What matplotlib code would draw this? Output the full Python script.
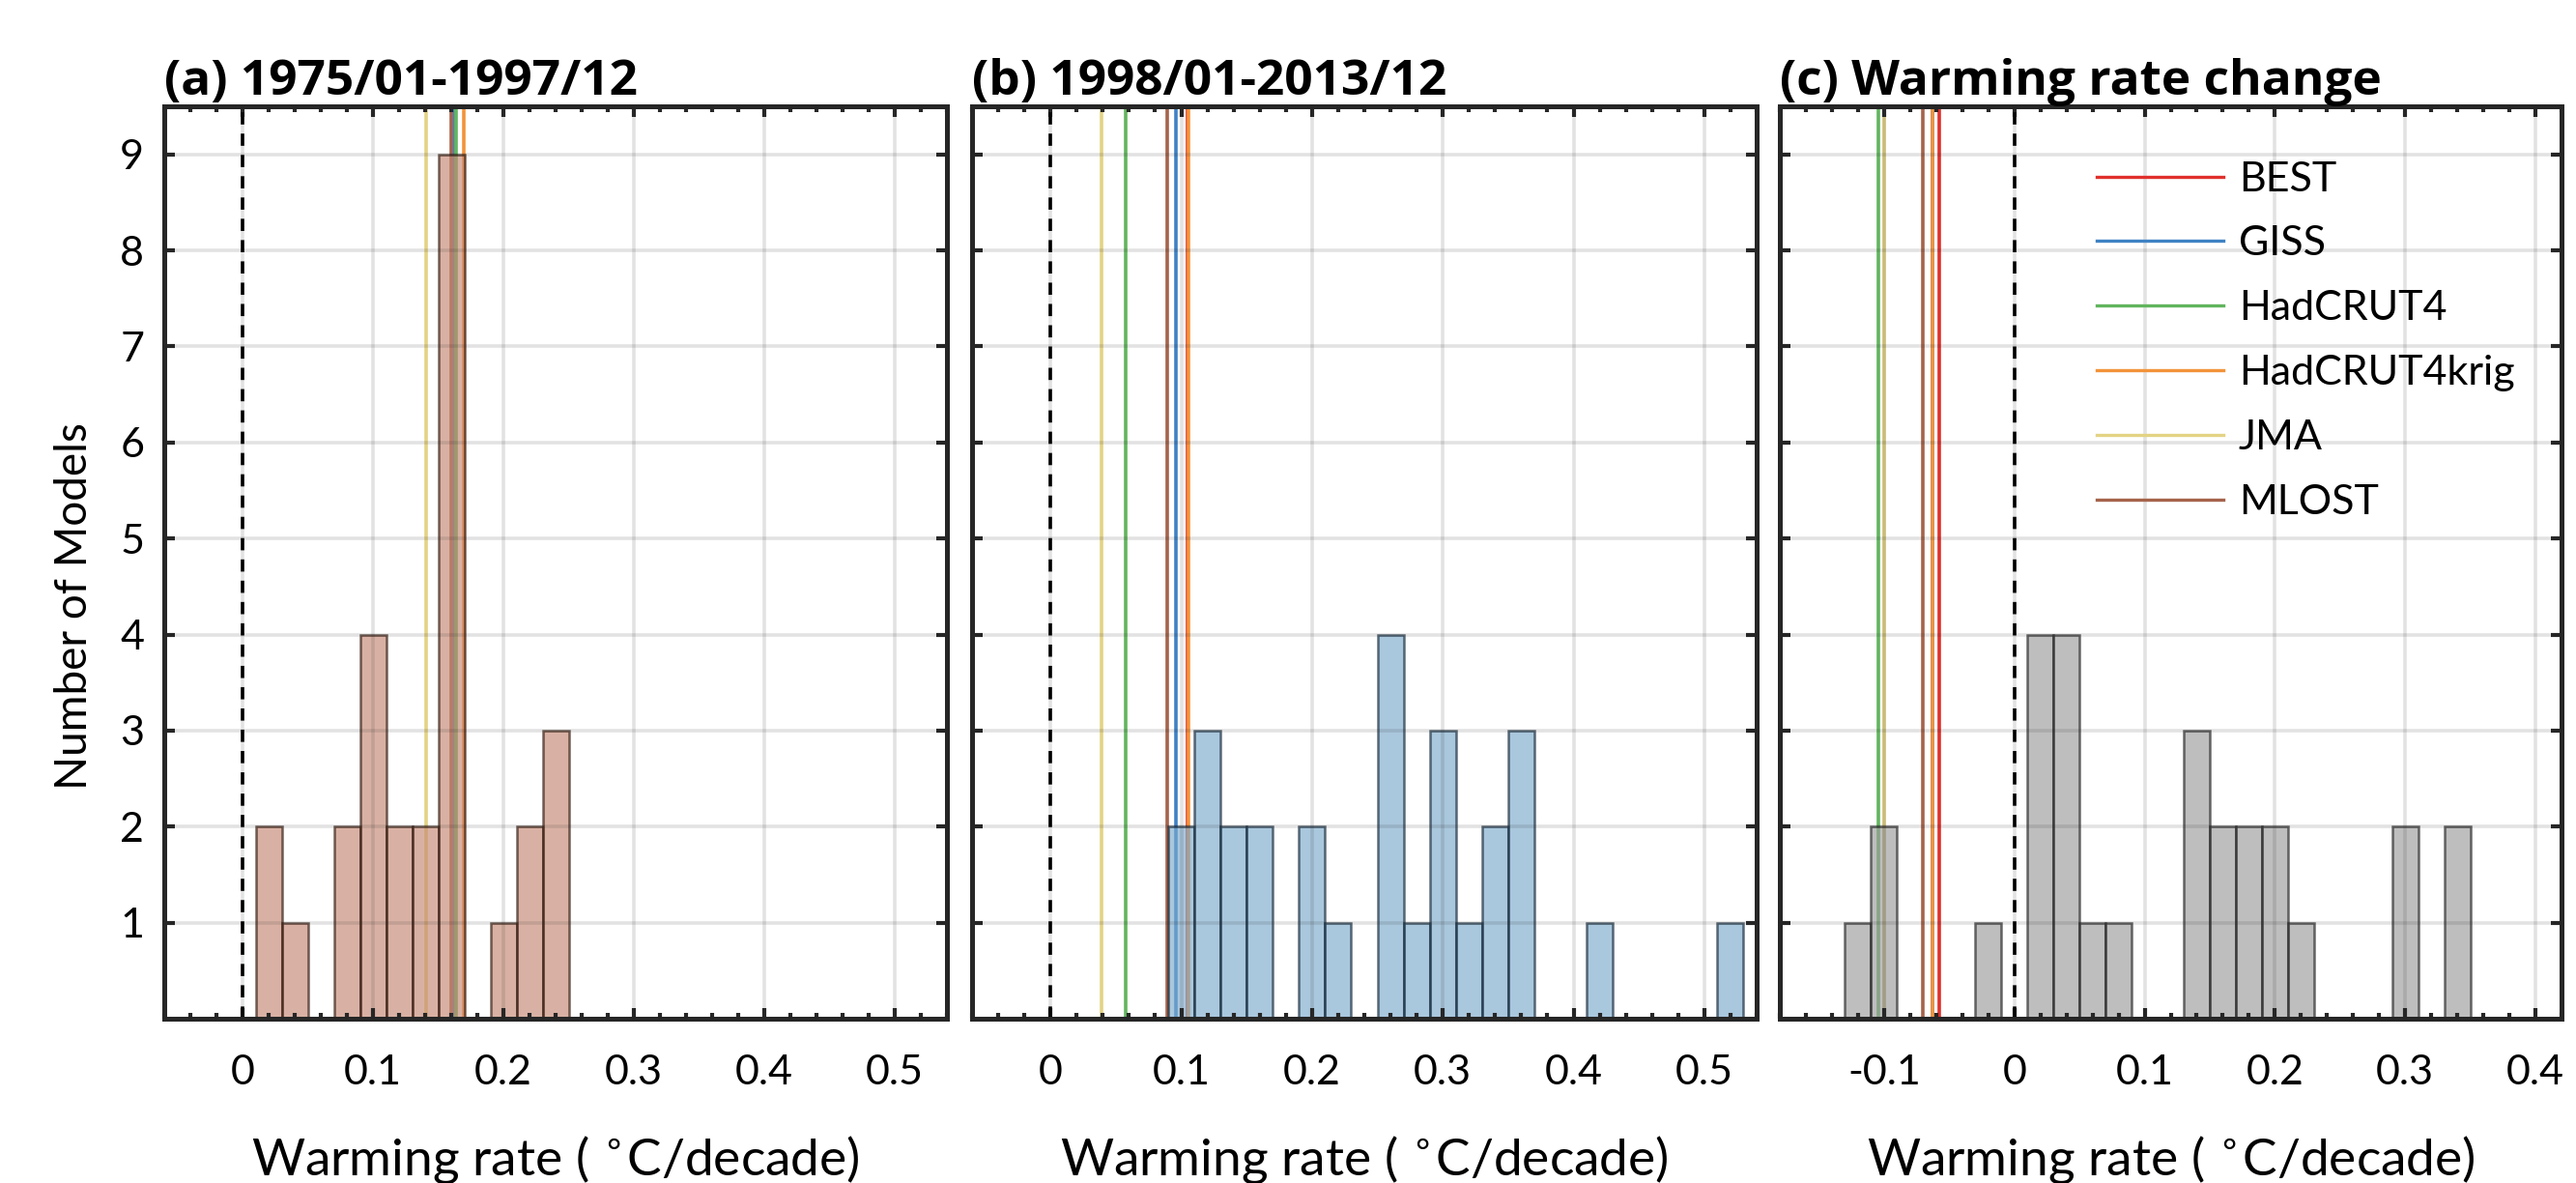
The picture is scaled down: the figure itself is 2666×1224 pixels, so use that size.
import matplotlib
matplotlib.use("Agg")
import matplotlib.pyplot as plt
from matplotlib.ticker import MultipleLocator, FixedLocator

# ---------------- data ----------------
datasets = ["BEST", "GISS", "HadCRUT4", "HadCRUT4krig", "JMA", "MLOST"]

# histogram bins (left edges, width 0.02) and model counts
a_bins = [0.01, 0.03, 0.05, 0.07, 0.09, 0.11, 0.13, 0.15, 0.17, 0.19, 0.21, 0.23]
a_counts = [2, 1, 0, 2, 4, 2, 2, 9, 0, 1, 2, 3]

b_bins = [0.09, 0.11, 0.13, 0.15, 0.17, 0.19, 0.21, 0.23, 0.25, 0.27, 0.29,
          0.31, 0.33, 0.35, 0.37, 0.39, 0.41, 0.43, 0.45, 0.47, 0.49, 0.51]
b_counts = [2, 3, 2, 2, 0, 2, 1, 0, 4, 1, 3, 1, 2, 3, 0, 0, 1, 0, 0, 0, 0, 1]

c_bins = [-0.13, -0.11, -0.09, -0.07, -0.05, -0.03, -0.01, 0.01, 0.03, 0.05, 0.07,
          0.09, 0.11, 0.13, 0.15, 0.17, 0.19, 0.21, 0.23, 0.25, 0.27, 0.29, 0.31, 0.33]
c_counts = [1, 2, 0, 0, 0, 1, 0, 4, 4, 1, 1, 0, 0, 3, 2, 2, 2, 1, 0, 0, 0, 2, 0, 2]

# observed warming rates (deg C / decade), order as in `datasets`
a_obs = [0.163, 0.162, 0.1635, 0.1695, 0.1405, 0.1598]
b_obs = [0.105, 0.096, 0.0576, 0.1057, 0.039, 0.0894]
c_obs = [-0.0576, -0.063, -0.104, -0.0628, -0.0999, -0.0702]

titles = ["(a) 1975/01-1997/12", "(b) 1998/01-2013/12", "(c) Warming rate change"]
a_xticks = [0, 0.1, 0.2, 0.3, 0.4, 0.5]
a_xticklabels = ["0", "0.1", "0.2", "0.3", "0.4", "0.5"]
c_xticks = [-0.1, 0, 0.1, 0.2, 0.3, 0.4]
c_xticklabels = ["-0.1", "0", "0.1", "0.2", "0.3", "0.4"]
yticks = [1, 2, 3, 4, 5, 6, 7, 8, 9]

# ---------------- style ----------------
obs_colors = ["#E0302C", "#3F82C4", "#62B55E", "#F2933A", "#E3D384", "#A5634B"]
face_colors = ["#C58873", "#7BAACB", "#9B9B9B"]
edge_colors = ["#2A1208", "#0E2233", "#1E1E1E"]
bar_alpha = 0.65
spine_col = "#262626"
tick_font = "Lato"

fig = plt.figure(figsize=(26.66, 12.24), dpi=100)
W, H = 2666.0, 1224.0
boxes = [(170, 980), (1006, 1818), (1842, 2651)]
top_px, bot_px = 110, 1054

panels = [
    (a_bins, a_counts, a_obs, (-0.06, 0.54), a_xticks, a_xticklabels),
    (b_bins, b_counts, b_obs, (-0.06, 0.54), a_xticks, a_xticklabels),
    (c_bins, c_counts, c_obs, (-0.18, 0.42), c_xticks, c_xticklabels),
]

for i, (bins, counts, obs, xlim, xt, xtl) in enumerate(panels):
    l, r = boxes[i]
    ax = fig.add_axes([l / W, (H - bot_px) / H, (r - l) / W, (bot_px - top_px) / H])
    # observation lines (below the semi-transparent bars)
    for name, val, col in zip(datasets, obs, obs_colors):
        ax.axvline(val, color=col, lw=2.6, zorder=1.5, label=name)
    ax.bar(bins, counts, width=0.02, align="edge", color=face_colors[i],
           alpha=bar_alpha, edgecolor=edge_colors[i], linewidth=1.8, zorder=2)
    ax.axvline(0, color="black", lw=2.6, ls=(0, (3.5, 2.6)), zorder=2.6)

    ax.set_xlim(*xlim)
    ax.set_ylim(0, 9.5)
    ax.xaxis.set_major_locator(FixedLocator(xt))
    ax.set_xticklabels(xtl)
    ax.xaxis.set_minor_locator(MultipleLocator(0.02))
    ax.yaxis.set_major_locator(FixedLocator(yticks))
    if i == 0:
        ax.set_yticklabels([str(v) for v in yticks])
        ax.set_ylabel("Number of Models", fontsize=33, family=tick_font, labelpad=19)
        ax.yaxis.label.set_y(0.452)
    else:
        ax.set_yticklabels([])

    ax.set_axisbelow(False)
    ax.grid(True, which="major", color=spine_col, alpha=0.13, lw=2.6)
    ax.tick_params(which="both", direction="in", top=True, right=True,
                   color=spine_col, width=3)
    ax.tick_params(which="major", length=8, labelsize=31)
    ax.tick_params(axis="x", which="major", pad=27)
    ax.tick_params(axis="y", which="major", pad=15)
    ax.tick_params(which="minor", length=4.5)
    for lab in ax.get_xticklabels() + ax.get_yticklabels():
        lab.set_family(tick_font)
    for s in ax.spines.values():
        s.set_linewidth(3.6)
        s.set_color(spine_col)
        s.set_zorder(3)

    ax.set_xlabel(r"Warming rate ( $^{\circ}$C/decade)", fontsize=38.3,
                  family=tick_font, labelpad=31)
    ax.set_title(titles[i], loc="left", fontweight="bold", fontsize=37,
                 family="Open Sans", pad=6)

    if i == 2:
        leg = ax.legend(loc="upper left", bbox_to_anchor=(0.405, 0.94),
                        frameon=False, handlelength=3.05,
                        handletextpad=0.37, labelspacing=0.67, borderaxespad=0,
                        borderpad=0, prop={"family": tick_font, "size": 31})
        for h in leg.get_lines():
            h.set_linewidth(2.4)

fig.savefig("out.png", dpi=100)
